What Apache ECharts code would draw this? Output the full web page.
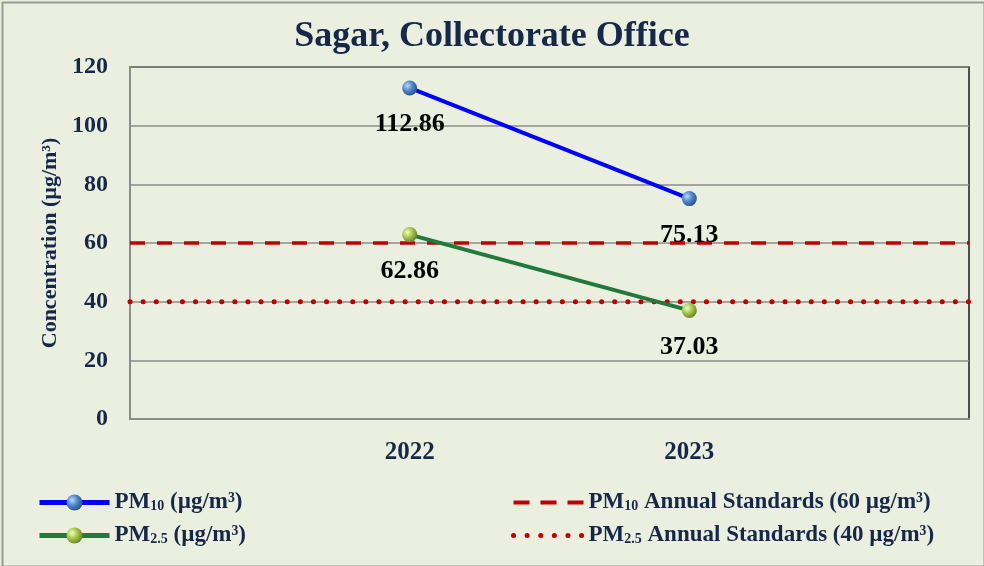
<!DOCTYPE html>
<html>
<head>
<meta charset="utf-8">
<script src="https://cdn.jsdelivr.net/npm/echarts@6/dist/echarts.min.js"></script>
<style>
html,body{margin:0;padding:0;background:#EBEFDF;}
#c{width:984px;height:566px;}
</style>
</head>
<body>
<div id="c"></div>
<script>
// Data
var categories = ['', '2022', '2023', ''];
var pm10 = [null, 112.86, 75.13, null];
var pm25 = [null, 62.86, 37.03, null];
var std10Value = 60;
var std25Value = 40;
var yTicks = {min: 0, max: 120, interval: 20};

var std10 = categories.map(function(){ return std10Value; });
var std25 = categories.map(function(){ return std25Value; });

var navy = '#15284A';
var serif = '"Liberation Serif", "Times New Roman", serif';

var blueBall = {type:'radial', x:0.35, y:0.35, r:0.75, colorStops:[
  {offset:0, color:'#b9dcff'}, {offset:0.45, color:'#4f88c8'}, {offset:1, color:'#254a7a'}]};
var greenBall = {type:'radial', x:0.35, y:0.35, r:0.75, colorStops:[
  {offset:0, color:'#f2ffb8'}, {offset:0.45, color:'#a7c64e'}, {offset:1, color:'#5d7a1e'}]};

var legendRich = {
  n: {fontFamily: serif, fontWeight:'bold', fontSize:23, color: navy, lineHeight:24},
  s: {fontFamily: serif, fontWeight:'bold', fontSize:14, color: navy, lineHeight:24, padding:[7,0,0,0]}
};
function fmt(name){
  var map = {
    'PM10 (µg/m³)': '{n|PM}{s|10}{n| (µg/m³)}',
    'PM2.5 (µg/m³)': '{n|PM}{s|2.5}{n| (µg/m³)}',
    'PM10 Annual Standards (60 µg/m³)': '{n|PM}{s|10}{n| Annual Standards (60 µg/m³)}',
    'PM2.5 Annual Standards (40 µg/m³)': '{n|PM}{s|2.5}{n| Annual Standards (40 µg/m³)}'
  };
  return map[name] || name;
}

var labelStyle = {show:true, position:'bottom', distance:16, fontFamily: serif, fontWeight:'bold', fontSize:26, color:'#000'};
var noSym = {color:'rgba(0,0,0,0)', borderWidth:0, opacity:0};

var chart = echarts.init(document.getElementById('c'));
chart.setOption({
  animation: false,
  backgroundColor: '#EBEFDF',
  title: {
    text: 'Sagar, Collectorate Office',
    left: 'center', top: 14,
    textStyle: {fontFamily: serif, fontWeight:'bold', fontSize:36, color: navy}
  },
  graphic: [{
    type:'rect', left:0, top:0, z:100,
    shape:{x:1, y:1, width:982, height:564},
    style:{fill:'none', stroke:'#9a9a9a', lineWidth:2}
  }],
  legend: [{
    orient:'vertical', left:32, top:486, itemWidth:70, itemHeight:20, itemGap:10,
    data:[
      {name:'PM10 (µg/m³)', lineStyle:{width:5}},
      {name:'PM2.5 (µg/m³)', lineStyle:{width:5}}
    ],
    formatter: fmt, textStyle:{rich: legendRich}
  },{
    orient:'vertical', left:506, top:486, itemWidth:70, itemHeight:20, itemGap:10,
    data:[
      {name:'PM10 Annual Standards (60 µg/m³)', itemStyle: noSym, lineStyle:{width:4, type:[16,11], color:'#C00000'}},
      {name:'PM2.5 Annual Standards (40 µg/m³)', itemStyle: noSym, lineStyle:{width:5, type:[0.1,13.5], cap:'round', color:'#C00000'}}
    ],
    formatter: fmt, textStyle:{rich: legendRich}
  }],
  grid: {left:130, right:15, top:67, bottom:147, show:true, borderColor:'#1a1a1a', borderWidth:1.5, backgroundColor:'transparent'},
  xAxis: {
    type:'category', data: categories, boundaryGap:false,
    axisTick:{show:false},
    axisLine:{lineStyle:{color:'#8c8c8c', width:2}},
    axisLabel:{fontFamily: serif, fontWeight:'bold', fontSize:25, color: navy, margin:21},
    splitLine:{show:false}
  },
  yAxis: {
    type:'value', min: yTicks.min, max: yTicks.max, interval: yTicks.interval,
    name:'Concentration (µg/m³)', nameLocation:'middle', nameGap:66,
    nameTextStyle:{fontFamily: serif, fontWeight:'bold', fontSize:22, color: navy},
    axisLine:{show:true, lineStyle:{color:'#8c8c8c', width:2}},
    axisTick:{show:false},
    axisLabel:{fontFamily: serif, fontWeight:'bold', fontSize:24, color: navy, margin:22},
    splitLine:{lineStyle:{color:'#8c8c8c', width:1.5}}
  },
  series: [
    {
      name:'PM10 Annual Standards (60 µg/m³)', type:'line', data: std10, symbol:'none', z:3,
      lineStyle:{color:'#C00000', width:3.5, type:[15,12]}, itemStyle:{color:'#C00000'}
    },
    {
      name:'PM2.5 Annual Standards (40 µg/m³)', type:'line', data: std25, symbol:'none', z:3,
      lineStyle:{color:'#C00000', width:5, type:[0.1,13], cap:'round'}, itemStyle:{color:'#C00000'}
    },
    {
      name:'PM10 (µg/m³)', type:'line', data: pm10, symbol:'circle', symbolSize:15, z:5,
      lineStyle:{color:'#0000FF', width:4}, itemStyle:{color: blueBall, borderWidth:0},
      label: labelStyle
    },
    {
      name:'PM2.5 (µg/m³)', type:'line', data: pm25, symbol:'circle', symbolSize:15, z:5,
      lineStyle:{color:'#217A3B', width:4}, itemStyle:{color: greenBall, borderWidth:0},
      label: labelStyle
    }
  ]
});
</script>
</body>
</html>
